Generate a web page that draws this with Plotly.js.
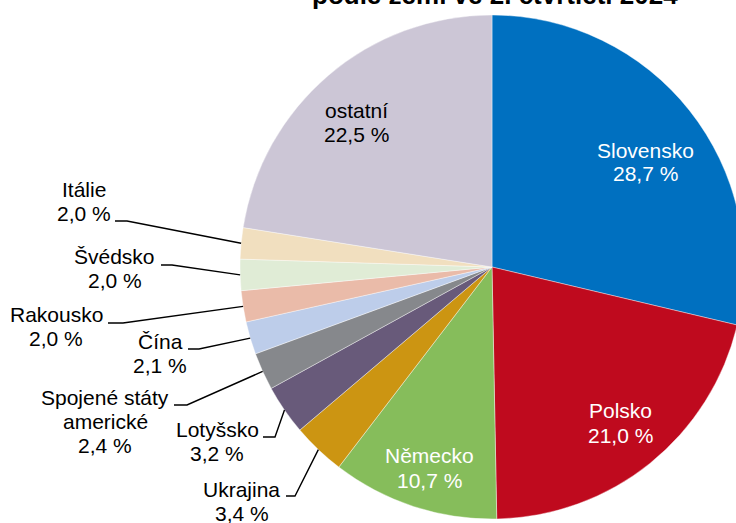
<!DOCTYPE html>
<html><head><meta charset="utf-8">
<script src="https://cdn.plot.ly/plotly-3.0.1.min.js"></script>
<style>
html,body{margin:0;padding:0;overflow:hidden;background:#fff;width:736px;height:523px}
#chart{width:760px;height:523px}
</style>
</head><body><div id="chart"></div>
<script>
// ---- data ----
const titleText = 'podle zemí ve 2. čtvrtletí 2024';
const categories = ['Slovensko','Polsko','Německo','Ukrajina','Lotyšsko','Spojené státy americké','Čína','Rakousko','Švédsko','Itálie','ostatní'];
const shares = [28.7, 21.0, 10.7, 3.4, 3.2, 2.4, 2.1, 2.0, 2.0, 2.0, 22.5];

// ---- style ----
const colors = ['#0070C0','#BF0A1E','#86BD5B','#CC9512','#685A7A','#86888C','#BDCDEA','#EABBA9','#E0ECD6','#F1DFBF','#CCC6D6'];
const FONT = 'Arial, "Liberation Sans", sans-serif';
const FS = 21;
const TFS = 26;
const W = 760, H = 523, ML = 240, MR = 16, MT = 15, MB = 4;
const PW = W - ML - MR, PH = H - MT - MB;
const CX = ML + PW / 2, CY = MT + PH / 2, R = Math.min(PW, PH) / 2;

// label layout (pixel positions): centre x, first baseline y, line gap, colour, name line breaks, leader [x0,x1,y]
const labelLayout = [
  {x:645, y:158, gap:23, color:'#ffffff', lines:['Slovensko']},
  {x:620, y:418, gap:25, color:'#ffffff', lines:['Polsko']},
  {x:429, y:463, gap:25, color:'#ffffff', lines:['Německo']},
  {x:241.5, y:496.5, gap:24, color:'#000000', lines:['Ukrajina'], leader:[286,295,496]},
  {x:217, y:437, gap:24, color:'#000000', lines:['Lotyšsko'], leader:[263,275,437]},
  {x:105, y:405, gap:24, color:'#000000', lines:['Spojené státy','americké'], leader:[174,187,405]},
  {x:160, y:349, gap:24, color:'#000000', lines:['Čína'], leader:[188,199,349]},
  {x:56, y:321.5, gap:24.5, color:'#000000', lines:['Rakousko'], leader:[108,123,323]},
  {x:114.5, y:264, gap:24, color:'#000000', lines:['Švédsko'], leader:[161,172,265]},
  {x:84, y:196.5, gap:24, color:'#000000', lines:['Itálie'], leader:[115,127,221]},
  {x:356, y:118, gap:24, color:'#000000', lines:['ostatní']}
];

function toPaper(px, py) { return [(px - ML) / PW, (H - MB - py) / PH]; }
function fmt(v) { return v.toFixed(1).replace('.', ',') + ' %'; }

const annotations = [];
const shapes = [];
const total = shares.reduce((a, b) => a + b, 0);
let cum = 0;
shares.forEach((v, i) => {
  const mid = (cum + v / 2) / total * 2 * Math.PI;
  cum += v;
  const L = labelLayout[i];
  const lines = L.lines.concat([fmt(v)]);
  lines.forEach((t, j) => {
    const base = L.y + j * L.gap;
    const p = toPaper(L.x, base - 0.3465 * FS);
    annotations.push({xref:'paper', yref:'paper', x:p[0], y:p[1], xanchor:'center', yanchor:'middle',
      showarrow:false, text:t, font:{family:FONT, size:FS, color:L.color}});
  });
  if (L.leader) {
    const ex = CX + R * Math.sin(mid), ey = CY - R * Math.cos(mid);
    const a = toPaper(L.leader[0], L.leader[2]);
    const b = toPaper(L.leader[1], L.leader[2]);
    const c = toPaper(ex, ey);
    shapes.push({type:'path', xref:'paper', yref:'paper',
      path:`M ${a[0]} ${a[1]} L ${b[0]} ${b[1]} L ${c[0]} ${c[1]}`,
      line:{color:'#000000', width:1.4}});
  }
});

// title (mostly cropped above the window, as in the reference)
const tp = toPaper(495, 4.5 - 0.3465 * TFS);
annotations.push({xref:'paper', yref:'paper', x:tp[0], y:tp[1], xanchor:'center', yanchor:'middle',
  showarrow:false, text:'<b>' + titleText + '</b>', font:{family:FONT, size:TFS, color:'#000000'}});

const trace = {
  type:'pie', labels:categories, values:shares, sort:false, direction:'clockwise', rotation:0,
  marker:{colors:colors, line:{color:'#ffffff', width:0.4}},
  textinfo:'none', hoverinfo:'none', showlegend:false
};

const layout = {
  width:W, height:H, margin:{l:ML, r:MR, t:MT, b:MB, pad:0},
  paper_bgcolor:'#ffffff', plot_bgcolor:'#ffffff',
  showlegend:false, annotations:annotations, shapes:shapes
};

Plotly.newPlot('chart', [trace], layout, {staticPlot:true, displayModeBar:false});
</script>
</body></html>
